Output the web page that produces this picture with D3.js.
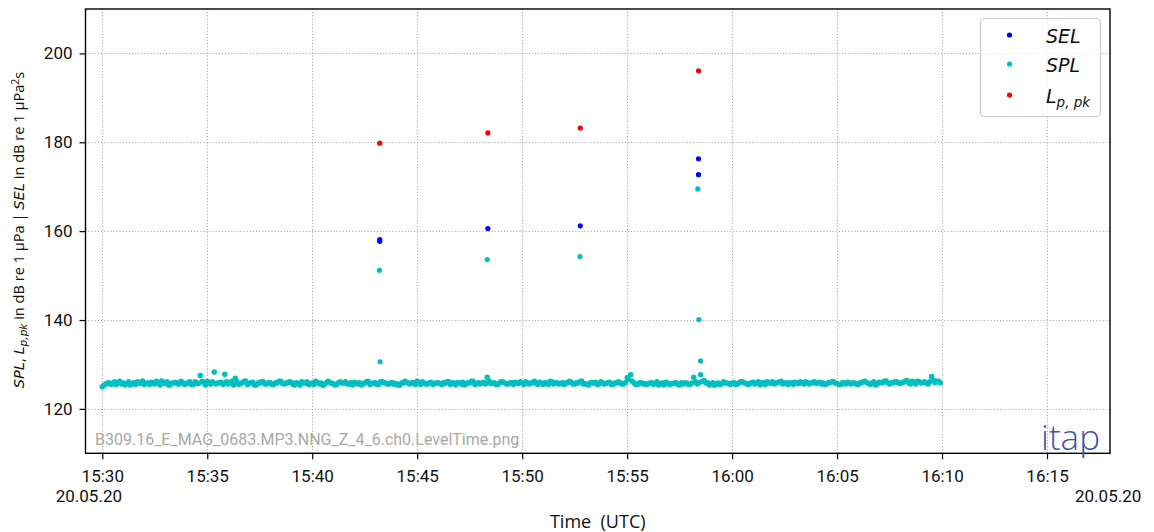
<!DOCTYPE html>
<html><head><meta charset="utf-8">
<script src="https://cdn.jsdelivr.net/npm/d3@7"></script>
<style>body{margin:0;background:#fff} svg{display:block}</style>
</head><body>
<svg id="c" width="1154" height="532"></svg>
<script>
// ---------------- data ----------------
const dateLabel = "20.05.20";
const baselineStartA = "15:30:00";   // SPL samples of the quiet baseline (every 10 s)
const baselineStartB = "15:30:05";   // interleaved samples, offset by 5 s
const baselineStepSec = 10;
const splBaselineA = [
 125.0,125.6,125.9,125.7,125.5,126.2,125.8,125.6,125.4,125.9,126.1,125.7,
 125.5,125.8,126.0,125.6,125.9,126.3,125.7,125.3,125.8,126.0,125.6,125.9,
 125.7,126.1,125.5,125.8,127.5,125.9,126.2,125.6,128.3,125.8,126.0,127.8,
 125.6,126.2,126.9,125.5,125.9,126.3,125.7,126.0,125.4,125.8,126.1,125.6,
 125.9,125.5,125.8,126.2,125.6,125.9,126.0,125.4,125.7,126.1,125.8,125.5,
 125.8,126.2,125.6,125.3,125.9,126.0,125.7,125.5,126.1,125.8,125.6,125.9,
 126.0,125.6,125.4,125.8,126.2,125.7,125.9,125.5,126.1,125.8,125.6,125.9,
 125.7,125.3,125.8,126.0,125.6,125.9,126.2,125.5,125.8,125.6,126.0,125.7,
 125.9,125.5,125.7,126.1,125.8,125.4,125.9,126.0,125.6,125.8,126.2,125.7,
 125.6,126.0,127.1,125.7,125.9,125.5,126.1,125.8,125.6,125.9,126.0,125.7,
 125.8,126.1,125.6,125.9,125.7,126.0,125.5,125.8,126.2,125.6,125.9,125.7,
 125.5,125.9,126.0,125.6,125.8,126.3,125.7,125.4,125.9,126.0,125.6,125.8,
 125.7,126.0,125.5,125.8,125.9,125.6,127.0,127.7,125.8,125.5,125.9,125.7,
 125.6,125.9,125.7,125.4,125.8,126.0,125.5,125.7,125.9,125.4,125.6,125.8,
 125.5,127.1,125.6,127.7,126.4,125.9,125.6,125.3,125.8,125.6,125.9,125.7,
 125.8,125.5,125.9,126.1,125.7,125.6,126.0,125.8,125.4,125.9,126.1,125.7,
 125.6,125.9,126.2,125.8,125.5,125.9,126.0,125.7,125.8,126.1,125.6,125.9,
 125.7,126.0,125.8,125.6,125.9,126.1,125.7,125.5,125.8,126.0,125.6,125.8,
 125.5,125.9,126.2,125.7,125.8,125.4,126.0,125.9,126.3,125.6,125.8,126.1,
 125.7,126.0,126.4,125.6,125.9,126.2,125.8,126.1,125.6,127.3,125.9,126.2
];
const splBaselineB = [
 125.3,125.8,125.5,126.1,125.9,125.6,125.4,126.1,125.7,125.5,125.9,126.3,
 125.8,125.5,125.9,126.2,125.4,125.8,126.1,125.5,125.9,125.6,126.2,125.5,
 125.9,125.5,126.1,125.7,126.2,125.4,125.8,126.1,125.6,125.9,125.5,126.1,
 125.8,125.4,126.1,125.7,126.2,125.5,125.9,125.4,125.8,126.1,125.6,125.9,
 125.5,125.9,126.2,125.7,125.8,126.1,125.5,125.9,125.4,125.8,126.1,125.6,
 125.5,125.9,125.8,125.5,126.2,125.7,125.4,125.9,125.8,126.1,125.6,125.4,
 125.8,125.9,125.6,126.1,125.5,125.8,125.5,126.1,125.9,125.6,125.9,125.5,
 125.4,125.8,126.2,125.7,125.9,125.5,125.8,126.1,125.6,125.9,125.5,125.8,
 125.7,125.9,126.1,125.5,125.8,125.9,125.6,125.4,125.9,126.2,125.5,125.9,
 125.8,125.6,126.3,125.9,125.5,125.8,126.1,125.6,125.9,125.5,125.8,126.1,
 125.5,125.9,125.8,126.2,125.5,125.8,125.9,125.5,126.1,125.8,125.6,125.9,
 125.8,126.2,125.6,125.9,126.1,125.6,125.5,125.9,125.8,125.5,126.1,125.6,
 125.9,125.5,125.8,126.1,125.6,125.9,126.6,126.2,125.5,125.9,125.6,125.5,
 125.8,125.5,126.1,125.6,125.4,125.9,125.6,125.8,125.5,125.9,125.8,125.5,
 125.8,126.1,125.9,126.2,125.8,125.4,125.9,125.6,125.5,126.1,125.8,125.5,
 125.9,125.6,126.1,125.8,125.5,125.9,125.6,126.1,125.8,125.5,125.9,126.1,
 125.8,126.1,125.6,125.9,125.8,125.5,125.9,126.1,125.6,125.9,125.8,126.1,
 125.9,125.6,125.5,125.9,126.1,125.8,125.5,125.9,125.6,125.8,125.9,125.6,
 125.8,126.1,125.9,125.5,126.1,125.6,125.9,126.2,125.8,125.9,126.1,125.8,
 125.9,126.3,125.8,126.2,125.6,126.1,125.9,125.8,126.1,126.5,126.2,125.9
];
const splEventTimes  = ["15:43:12","15:43:14","15:48:20","15:52:45","15:58:22","15:58:25","15:58:30"];
const splEventValues = [151.2, 130.6, 153.6, 154.3, 169.5, 140.1, 130.8];
const selTimes  = ["15:43:13","15:43:13","15:48:22","15:52:46","15:58:24","15:58:24"];
const selValues = [158.1, 157.7, 160.6, 161.2, 176.3, 172.7];
const lpkTimes  = ["15:43:13","15:48:22","15:52:46","15:58:24"];
const lpkValues = [179.8, 182.1, 183.2, 196.1];
const yTicks = [120, 140, 160, 180, 200];
const xTickTimes = ["15:30","15:35","15:40","15:45","15:50","15:55","16:00","16:05","16:10","16:15"];
const xDomain = ["15:29:12", "16:18:00"];
const yDomain = [110, 210];
const watermark = "B309.16_E_MAG_0683.MP3.NNG_Z_4_6.ch0.LevelTime.png";

// ---------------- helpers ----------------
const T = s => new Date("2020-05-20T" + (s.length === 5 ? s + ":00" : s) + "Z");
const series = (start, vals) => vals.map((v, i) => ({t: new Date(+T(start) + i * baselineStepSec * 1000), v}));
const baseline = series(baselineStartA, splBaselineA).concat(series(baselineStartB, splBaselineB))
  .sort((a, b) => a.t - b.t);
const splEv = splEventTimes.map((s, i) => ({t: T(s), v: splEventValues[i]}));
const sel = selTimes.map((s, i) => ({t: T(s), v: selValues[i]}));
const lpk = lpkTimes.map((s, i) => ({t: T(s), v: lpkValues[i]}));

const C = {sel: "#0000ff", spl: "#00bfbf", lpk: "#ff0000"};
const L = 85.5, R = 1110, TOP = 9, BOT = 453.3;

const svg = d3.select("#c");
const x = d3.scaleUtc().domain(xDomain.map(T)).range([L, R]);
const y = d3.scaleLinear().domain(yDomain).range([BOT, TOP]);
const xt = xTickTimes.map(T);

// grid
const grid = svg.append("g").attr("stroke", "#a8a8a8").attr("stroke-width", 1.1).attr("stroke-dasharray", "1.1,2");
grid.selectAll(".gx").data(xt).join("line")
  .attr("x1", d => Math.round(x(d)) + 0.5).attr("x2", d => Math.round(x(d)) + 0.5)
  .attr("y1", TOP).attr("y2", BOT);
grid.selectAll(".gy").data(yTicks).join("line")
  .attr("y1", d => Math.round(y(d)) + 0.5).attr("y2", d => Math.round(y(d)) + 0.5)
  .attr("x1", L).attr("x2", R);

// points
const pts = svg.append("g");
function dots(data, col, r) {
  pts.append("g").attr("fill", col).selectAll("circle").data(data).join("circle")
    .attr("cx", d => x(d.t)).attr("cy", d => y(d.v)).attr("r", r);
}
dots(baseline, C.spl, 2.75);
dots(splEv, C.spl, 2.6);
dots(sel, C.sel, 2.6);
dots(lpk, C.lpk, 2.6);

// axes
const fontTick = "Roboto, 'DejaVu Sans', sans-serif";
const xa = svg.append("g").attr("transform", `translate(0,${BOT})`)
  .call(d3.axisBottom(x).tickValues(xt).tickFormat(d3.utcFormat("%H:%M")).tickSize(6).tickPadding(11));
const ya = svg.append("g").attr("transform", `translate(${L},0)`)
  .call(d3.axisLeft(y).tickValues(yTicks).tickSize(6).tickPadding(7));
[xa, ya].forEach(a => {
  a.select(".domain").remove();
  a.selectAll(".tick line").attr("stroke", "#000").attr("stroke-width", 1.2);
  a.selectAll(".tick text").attr("fill", "#111").style("font-family", fontTick).style("font-size", "17px");
});
xa.selectAll(".tick text").attr("dy", "0.71em");

// frame
svg.append("rect").attr("x", L).attr("y", TOP).attr("width", R - L).attr("height", BOT - TOP)
  .attr("fill", "none").attr("stroke", "#000").attr("stroke-width", 1.4);

// date labels
svg.append("text").attr("x", 122).attr("y", 502).attr("text-anchor", "end")
  .style("font-family", fontTick).style("font-size", "17px").attr("fill", "#111").text(dateLabel);
svg.append("text").attr("x", 1075).attr("y", 502).attr("text-anchor", "start")
  .style("font-family", fontTick).style("font-size", "17px").attr("fill", "#111").text(dateLabel);

// x label
svg.append("text").attr("x", (L + R) / 2).attr("y", 528).attr("text-anchor", "middle")
  .style("font-family", "'Open Sans', sans-serif").style("font-size", "18px").style("white-space", "pre")
  .attr("fill", "#111").text("Time  (UTC)");

// y label
const yl = svg.append("text").attr("transform", "translate(24,230) rotate(-90)").attr("text-anchor", "middle")
  .style("font-family", "'Open Sans', sans-serif").style("font-size", "14.6px").attr("fill", "#111");
const it = (s) => yl.append("tspan").style("font-family", "'DejaVu Sans'").style("font-style", "italic").text(s);
it("SPL"); yl.append("tspan").text(", ");
it("L"); yl.append("tspan").style("font-family", "'DejaVu Sans'").style("font-style", "italic").style("font-size", "10.5px").attr("dy", 3).text("p,pk");
yl.append("tspan").attr("dy", -3).text(" in dB re 1 µPa | ");
it("SEL"); yl.append("tspan").text(" in dB re 1 µPa");
yl.append("tspan").style("font-size", "10.5px").attr("dy", -5).text("2");
yl.append("tspan").attr("dy", 5).text("s");

// watermark
svg.append("text").attr("x", 95).attr("y", 445).style("font-family", "Roboto, sans-serif").style("font-size", "16px")
  .attr("fill", "#a8a8a8").text(watermark);
svg.append("text").attr("x", 1041).attr("y", 450).style("font-family", "'Open Sans', sans-serif").style("font-weight", 300)
  .style("font-size", "35px").attr("fill", "#3b55a6").text("itap");

// legend
const lg = svg.append("g");
lg.append("rect").attr("x", 980.5).attr("y", 18.5).attr("width", 120).attr("height", 98).attr("rx", 4)
  .attr("fill", "#fff").attr("fill-opacity", 0.8).attr("stroke", "#cccccc").attr("stroke-width", 1.2);
const items = [
  {col: C.sel, label: "SEL", yb: 42.5, ym: 35},
  {col: C.spl, label: "SPL", yb: 71.5, ym: 64},
  {col: C.lpk, label: "L", sub: "p, pk", yb: 102.5, ym: 95}
];
items.forEach(d => {
  lg.append("circle").attr("cx", 1009.5).attr("cy", d.ym).attr("r", 2.6).attr("fill", d.col);
  const t = lg.append("text").attr("x", 1046).attr("y", d.yb).style("font-family", "'DejaVu Sans'")
    .style("font-style", "italic").style("font-size", "19px").attr("fill", "#111");
  t.append("tspan").text(d.label);
  if (d.sub) t.append("tspan").style("font-size", "13.5px").attr("dy", 4).text(d.sub);
});
</script>
</body></html>
